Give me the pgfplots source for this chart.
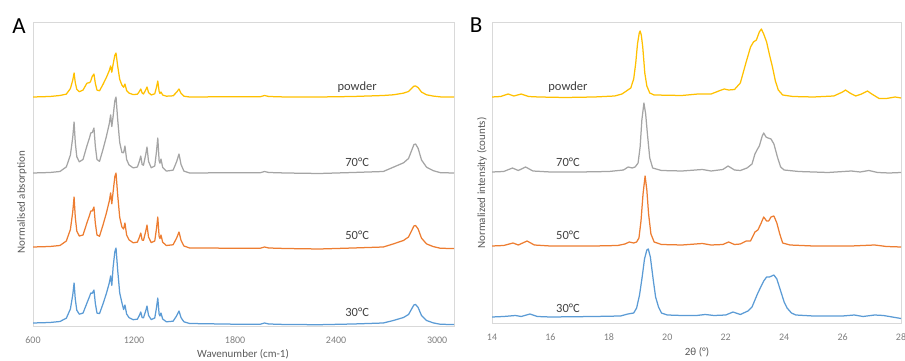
\documentclass[border=0pt]{standalone}
\usepackage{pgfplots}
\pgfplotsset{compat=1.18}
\usepackage{fontspec}
\setmainfont{Carlito}
\definecolor{cy}{HTML}{FFC000}
\definecolor{cg}{HTML}{A5A5A5}
\definecolor{co}{HTML}{ED7D31}
\definecolor{cb}{HTML}{5B9BD5}
\definecolor{framegray}{HTML}{D9D9D9}
\definecolor{tickgray}{HTML}{7F7F7F}
\definecolor{labgray}{HTML}{595959}
\definecolor{txt}{HTML}{404040}
\begin{document}
\begin{tikzpicture}[x=1pt,y=1pt]
\useasboundingbox (0,0) rectangle (905,361);
\pgfplotsset{
  myax/.style={
    scale only axis,
    axis line style={draw=framegray, line width=0.9pt},
    ytick=\empty,
    major tick length=0pt,
    xtick style={draw=none},
    xticklabel style={font=\fontsize{10}{12}\selectfont, text=tickgray, anchor=center, yshift=-14pt},
    every axis plot/.append style={line width=1.25pt, line join=round},
  }
}
% ---------------- Panel A ----------------
\begin{axis}[myax,
  at={(33pt,35pt)}, anchor=south west,
  width=421pt, height=304pt,
  xmin=600, xmax=3100, ymin=0, ymax=304,
  xtick={600,1200,1800,2400,3000},
  xticklabels={600,1200,1800,2400,3000},
]
% powder
\addplot[cy] coordinates {
(600,229)(700,229.5)(760,230.5)(798,231.9)(822,237.4)(836,245.8)(844,253)(851,243.4)(860,236.7)(875,234.3)
(897,235.9)(920,242.8)(937,243.4)(943,245)(952,249.7)(962,252)(970,242.8)(980,235.9)(995,235.2)(1015,241.4)
(1035,248.2)(1053,255.4)(1061,260)(1068,253.8)(1076,262)(1086,270.8)(1093,273)(1103,259.8)(1115,246.6)(1128,240.9)
(1138,238.75)(1146,242)(1156,235.5)(1170,232.9)(1195,231.4)(1220,231.8)(1232,234.6)(1240,237)(1248,233)(1256,232)
(1269,236)(1277,239)(1286,233.5)(1302,231)(1323,232.2)(1333,238.6)(1341,245)(1349,234.6)(1354,232.5)(1360,234)
(1370,231)(1392,229.8)(1432,230.2)(1453,233.8)(1467,237)(1479,232.6)(1496,229.8)(1530,229)(1800,229.3)(1950,229.3)
(1975,230.5)(2000,229.5)(2100,229)(2300,229)(2500,229.5)(2680,230.5)(2740,231.2)(2800,232.85)(2830,234.5)(2850,237.8)
(2862,239.8)(2872,240)(2887,238.35)(2907,233.95)(2937,231.2)(2977,229.9)(3020,229.1)(3100,229)
};
% 70 C
\addplot[cg] coordinates {
(600,153)(700,153.5)(760,154.5)(798,159.1)(822,170.9)(836,188.7)(844,204)(851,183.6)(860,169.3)(875,164.2)
(897,166.5)(920,180)(937,189)(943,193)(952,193.5)(962,198)(970,180)(980,166.5)(995,164.6)(1015,176.2)
(1035,189)(1053,202.3)(1061,211)(1068,199.4)(1076,210)(1086,225.2)(1093,229)(1103,206.2)(1115,183.4)(1128,173.5)
(1138,173.25)(1146,180)(1156,166.5)(1170,161.1)(1195,158.1)(1220,159)(1232,164.9)(1240,170)(1248,161.5)(1256,160.8)
(1269,171.2)(1277,179)(1286,164.7)(1302,158.2)(1323,160)(1333,174)(1341,188)(1349,165.25)(1354,162.8)(1360,167)
(1370,158.6)(1392,154.9)(1432,155.85)(1453,164.4)(1467,172)(1479,161.55)(1496,154.9)(1530,153)(1800,153.3)(1950,153.3)
(1975,154.5)(2000,153.5)(2100,153)(2300,152.5)(2500,153.5)(2680,154.5)(2740,158.8)(2800,163.15)(2830,167.5)(2850,176.2)
(2862,181.4)(2872,182)(2887,177.65)(2907,166.05)(2937,158.8)(2977,155.3)(3020,153.3)(3100,153)
};
% 50 C
\addplot[co] coordinates {
(600,79)(700,79.5)(760,80.5)(798,85)(822,96.5)(836,114)(844,129)(851,109)(860,95)(875,90)
(897,91)(920,103)(937,111.4)(943,115)(952,115)(962,119)(970,103)(980,91)(995,89.8)(1015,100.6)
(1035,112.5)(1053,124.9)(1061,133)(1068,122.2)(1076,134.5)(1086,149.3)(1093,153)(1103,130.8)(1115,108.6)(1128,99)
(1138,97)(1146,103)(1156,91)(1170,86.2)(1195,83.2)(1220,83.9)(1232,88.8)(1240,93)(1248,86)(1256,85.6)
(1269,94.4)(1277,101)(1286,88.9)(1302,83.4)(1323,85)(1333,97)(1341,109)(1349,89.5)(1354,87.4)(1360,91)
(1370,83.8)(1392,80.5)(1432,81.25)(1453,88)(1467,94)(1479,85.75)(1496,80)(1530,78)(1800,77.8)(1950,77.8)
(1975,79)(2000,78)(2100,77.5)(2300,77)(2500,78)(2680,79)(2740,82.1)(2800,85.55)(2830,89)(2850,95.9)
(2862,100)(2872,100.5)(2887,97)(2907,87.85)(2937,82.1)(2977,79.4)(3020,77.7)(3100,77.5)
};
% 30 C
\addplot[cb] coordinates {
(600,3)(700,3.5)(760,4.5)(798,7.8)(822,17)(836,31)(844,43)(851,27)(860,15.8)(875,11.8)
(897,12.9)(920,22.8)(937,30)(943,33)(952,32.7)(962,36)(970,22.8)(980,12.9)(995,12.4)(1015,21.8)
(1035,32.1)(1053,43)(1061,50)(1068,40.6)(1076,59.25)(1086,74.25)(1093,78)(1103,55.5)(1115,33)(1128,23.25)
(1138,16.5)(1146,21)(1156,12)(1170,8.4)(1195,6.3)(1220,6.85)(1232,10.7)(1240,14)(1248,8.5)(1256,8.1)
(1269,14.9)(1277,20)(1286,10.65)(1302,6.4)(1323,8)(1333,18)(1341,28)(1349,11.75)(1354,10)(1360,13)
(1370,7)(1392,4.2)(1432,4.8)(1453,10.2)(1467,15)(1479,8.4)(1496,4.2)(1530,2.5)(1800,1.8)(1950,1.8)
(1975,3)(2000,2)(2100,1.5)(2300,1.3)(2500,2)(2680,3)(2740,5.5)(2800,8.5)(2830,11.5)(2850,17.5)
(2862,21.1)(2872,21.5)(2887,18.5)(2907,10.5)(2937,5.5)(2977,3.1)(3020,1.7)(3100,1.5)
};
\node[font=\fontsize{12.5}{15}\selectfont, text=txt] at (axis cs:2525,239) {powder};
\node[font=\fontsize{12.5}{15}\selectfont, text=txt] at (axis cs:2525,164) {70°C};
\node[font=\fontsize{12.5}{15}\selectfont, text=txt] at (axis cs:2525,91) {50°C};
\node[font=\fontsize{12.5}{15}\selectfont, text=txt] at (axis cs:2525,14) {30°C};
\end{axis}
% ---------------- Panel B ----------------
\begin{axis}[myax,
  at={(492pt,38pt)}, anchor=south west,
  width=409pt, height=301pt,
  xmin=14, xmax=28, ymin=0, ymax=301,
  xtick={14,16,18,20,22,24,26,28},
  xticklabels={14,16,18,20,22,24,26,28},
]
% powder
\addplot[cy] coordinates {
(14.0,226)(14.3,226.5)(14.55,229)(14.75,227)(15.0,229)(15.25,226.5)(15.6,226)(16.5,225.5)(17.5,226)(18.2,227)
(18.45,229)(18.6,232)(18.75,235)(18.85,244)(18.92,260)(18.98,279)(19.04,290)(19.07,292)(19.11,288)(19.16,276)
(19.23,250)(19.3,237)(19.4,230)(19.55,228)(20.5,227.5)(21.05,229)(21.5,229)(21.85,233)(21.95,234)(22.1,233)
(22.3,233.5)(22.5,240)(22.7,261)(22.85,276)(22.95,281)(23.05,283)(23.15,291)(23.22,294)(23.3,289)(23.4,281)
(23.5,268)(23.6,256)(23.7,242)(23.8,233)(23.95,228)(24.3,226.5)(25.0,226)(25.7,227)(26.0,231)(26.1,233)
(26.25,230)(26.45,227)(26.65,229)(26.85,232)(27.0,229)(27.25,224.5)(27.5,224.5)(27.8,226)(28.0,225)
};
% 70 C
\addplot[cg] coordinates {
(14.0,151)(14.4,151.5)(14.7,155)(14.9,152.5)(15.15,156)(15.4,152)(16,151)(17,151)(18,151.5)(18.5,153)
(18.66,156)(18.8,155)(18.9,156)(19.0,160)(19.07,176)(19.13,203)(19.2,220)(19.26,209)(19.32,189)(19.4,165)
(19.5,155)(19.8,152.5)(20.5,152)(21.2,153.5)(21.5,152)(21.9,153.5)(22.08,157)(22.3,153)(22.5,152.5)(22.73,155)
(22.9,159)(23.0,169)(23.07,173)(23.15,177)(23.25,187)(23.3,190)(23.38,186)(23.45,185)(23.55,184)(23.65,179)
(23.77,166)(23.88,156)(24.0,153)(24.5,151.5)(25.5,150.5)(26.3,152)(26.6,151)(26.9,152.5)(27.2,150.5)(27.6,150)
(28,150.5)
};
% 50 C
\addplot[co] coordinates {
(14.0,77)(14.4,77.5)(14.72,80)(14.9,78)(15.2,82)(15.45,78)(16,77)(17.5,77)(18.3,77.5)(18.55,79)
(18.7,81)(18.85,80)(18.95,81)(19.03,85)(19.1,102)(19.17,129)(19.24,147)(19.3,133)(19.36,109)(19.44,89)
(19.55,81)(19.8,78.5)(20.5,78)(21.2,79.5)(21.5,78)(21.9,78.5)(22.1,81)(22.3,78.5)(22.5,79)(22.7,82)
(22.85,82)(23.0,91)(23.1,93)(23.2,99)(23.3,106)(23.4,102)(23.47,102)(23.55,106)(23.65,107)(23.75,100)
(23.85,89)(23.95,80)(24.2,78)(25,77)(26.3,77)(27.1,78)(27.5,76.5)(28,76)
};
% 30 C
\addplot[cb] coordinates {
(14.0,6)(14.4,6.5)(14.8,7.5)(15.0,6.5)(15.3,9)(15.55,6.5)(16.0,6)(17.5,6.5)(18.4,7)(18.65,9)
(18.85,10)(18.95,15)(19.05,28)(19.14,46)(19.22,64)(19.3,73)(19.35,74)(19.42,66)(19.52,43)(19.6,26)
(19.7,16)(19.8,10)(20.0,8)(20.5,7.5)(21.0,7.5)(21.3,8.5)(21.6,7.5)(22.0,8)(22.25,11)(22.5,8.5)
(22.76,12)(22.9,16)(23.1,30)(23.3,42)(23.4,46)(23.5,46)(23.65,48)(23.75,44)(23.87,33)(24.0,21)
(24.1,15)(24.25,10)(24.4,8)(25.0,7)(26.0,7)(26.4,8)(26.7,6.5)(27.1,8)(27.4,7.5)(27.7,6)
(28.0,4.5)
};
\node[font=\fontsize{12.5}{15}\selectfont, text=txt] at (axis cs:16.6,236) {powder};
\node[font=\fontsize{12.5}{15}\selectfont, text=txt] at (axis cs:16.6,161) {70°C};
\node[font=\fontsize{12.5}{15}\selectfont, text=txt] at (axis cs:16.6,88) {50°C};
\node[font=\fontsize{12.5}{15}\selectfont, text=txt] at (axis cs:16.6,15) {30°C};
\end{axis}
% ---------------- labels ----------------
\node[font=\fontsize{23}{25}\selectfont, text=black] at (19,335) {A};
\node[font=\fontsize{23}{25}\selectfont, text=black] at (476,336) {B};
\node[font=\fontsize{11}{13}\selectfont, text=labgray, rotate=90] at (22,159) {Normalised absorption};
\node[font=\fontsize{11}{13}\selectfont, text=labgray] at (243,7) {Wavenumber (cm-1)};
\node[font=\fontsize{11}{13}\selectfont, text=labgray, rotate=90] at (482,178) {Normalized intensity (counts)};
\node[font=\fontsize{11}{13}\selectfont, text=labgray] at (697,9) {2θ (°)};
\end{tikzpicture}
\end{document}
